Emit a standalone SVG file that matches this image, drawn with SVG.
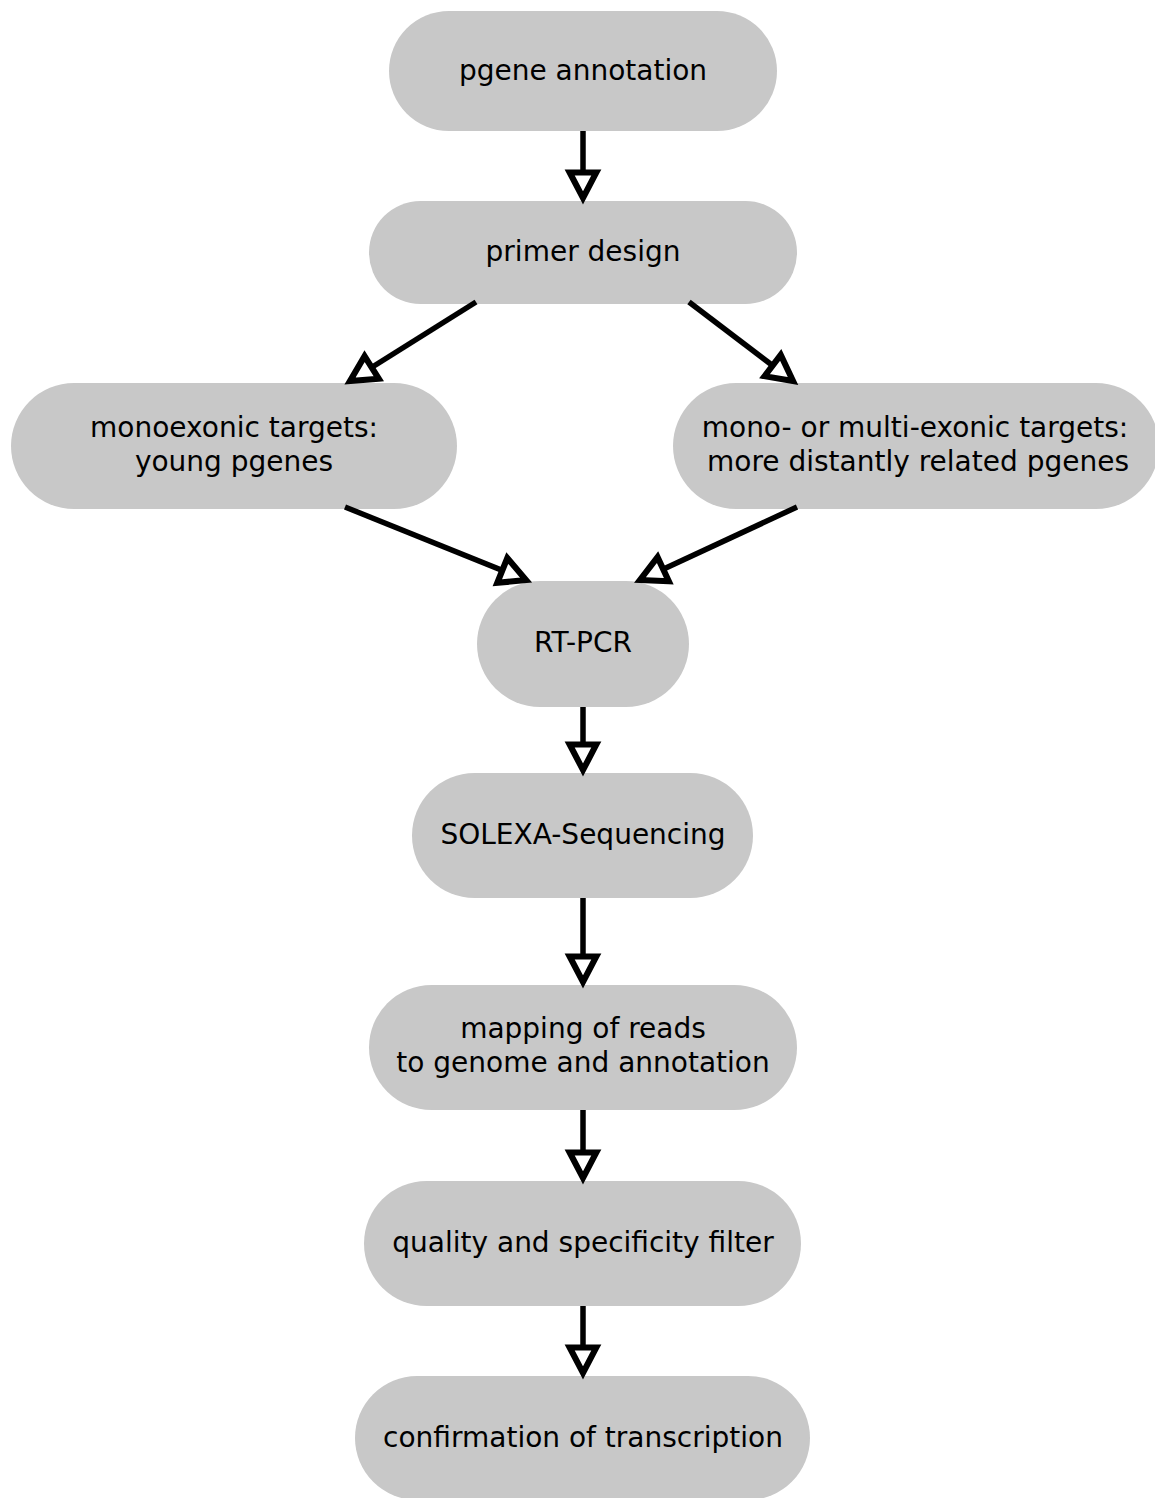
<svg xmlns="http://www.w3.org/2000/svg" width="1155" height="1498" viewBox="0 0 1155 1498">
<style>
.node rect{fill:#c8c8c8;stroke:none}
.node text{font-family:"DejaVu Sans",sans-serif;font-size:28px;fill:#000;text-anchor:middle}
.edges line{stroke:#000;stroke-width:5.5;fill:none;marker-end:url(#arr)}
</style>
<defs>
<marker id="arr" markerUnits="userSpaceOnUse" markerWidth="40" markerHeight="40" viewBox="-4 -4 36 34" refX="25" refY="13" orient="auto" overflow="visible">
<path d="M2,1 L25,13 L2,25 Z" fill="#fff" stroke="#000" stroke-width="5.5" stroke-linejoin="miter"/>
</marker>
</defs>
<rect width="1155" height="1498" fill="#fff"/>
<g id="n1" class="node"><rect x="389" y="11" width="388" height="120" rx="60"/><text x="583" y="80">pgene annotation</text></g>
<g id="n2" class="node"><rect x="369" y="201" width="428" height="103" rx="51.5"/><text x="583" y="261">primer design</text></g>
<g id="n3" class="node"><rect x="11" y="383" width="446" height="126" rx="63"/><text x="234" y="437">monoexonic targets:</text><text x="234" y="471">young pgenes</text></g>
<g id="n4" class="node"><rect x="673" y="383" width="486" height="126" rx="63"/><text x="915" y="437">mono- or multi-exonic targets:</text><text x="918" y="471">more distantly related pgenes</text></g>
<g id="n5" class="node"><rect x="477" y="581" width="212" height="126" rx="63"/><text x="583" y="652">RT-PCR</text></g>
<g id="n6" class="node"><rect x="412" y="773" width="341" height="125" rx="62.5"/><text x="583" y="844">SOLEXA-Sequencing</text></g>
<g id="n7" class="node"><rect x="369" y="985" width="428" height="125" rx="62.5"/><text x="583" y="1038">mapping of reads</text><text x="583" y="1072">to genome and annotation</text></g>
<g id="n8" class="node"><rect x="364" y="1181" width="437" height="125" rx="62.5"/><text x="583" y="1252">quality and specificity filter</text></g>
<g id="n9" class="node"><rect x="355" y="1376" width="455" height="124" rx="62"/><text x="583" y="1447">confirmation of transcription</text></g>
<g id="edges" class="edges">
<line x1="583" y1="131" x2="583" y2="198"/>
<line x1="476" y1="302" x2="350" y2="381"/>
<line x1="689" y1="302" x2="793" y2="381"/>
<line x1="345" y1="507" x2="526" y2="580"/>
<line x1="797" y1="507" x2="640" y2="580"/>
<line x1="583" y1="707" x2="583" y2="770"/>
<line x1="583" y1="898" x2="583" y2="982"/>
<line x1="583" y1="1110" x2="583" y2="1178"/>
<line x1="583" y1="1306" x2="583" y2="1373"/>
</g>
</svg>
